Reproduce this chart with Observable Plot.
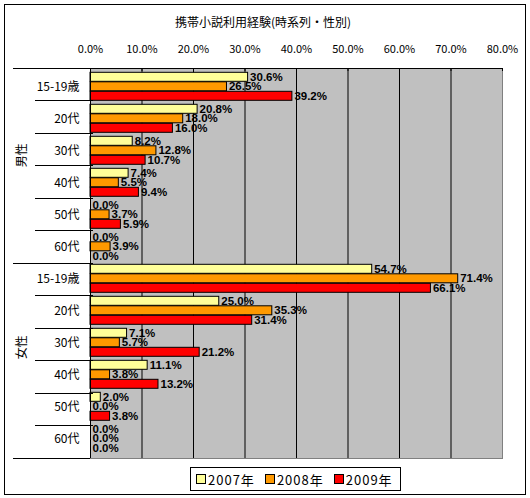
<!DOCTYPE html>
<html><head><meta charset="utf-8">
<script src="https://cdn.jsdelivr.net/npm/d3@7"></script>
<script src="https://cdn.jsdelivr.net/npm/@observablehq/plot@0.6"></script>
<style>
body{margin:0;background:#fff;}
#wrap{position:relative;width:530px;height:498px;font-family:"Noto Sans CJK JP","Liberation Sans",sans-serif;}
#border{position:absolute;left:4px;top:4px;width:520px;height:489px;border:1px solid #000;box-sizing:content-box;}
#title{position:absolute;left:0;top:13px;width:526px;text-align:center;font-size:12px;color:#000;}
#legend{position:absolute;left:190px;top:467px;width:209px;height:22px;border:1px solid #000;background:#fff;font-size:13px;display:flex;align-items:center;}
#legend span.item{display:flex;align-items:center;margin-left:5px;margin-right:5px;letter-spacing:1px;white-space:nowrap;}
#legend i{display:inline-block;width:8px;height:8px;border:1px solid #000;margin-right:2px;}
svg{position:absolute;left:0;top:0;}
</style></head>
<body><div id="wrap"><div id="border"></div><div id="title"></div><div id="chart"></div><div id="legend"></div></div>
<script>
const title = "携帯小説利用経験(時系列・性別)";
const genders = ["男性", "女性"];
const ages = ["15-19歳", "20代", "30代", "40代", "50代", "60代"];
const years = ["2007年", "2008年", "2009年"];
const colors = ["#FFFF99", "#FF9900", "#FF0000"];
const v2007 = [30.6, 20.8, 8.2, 7.4, 0.0, 0.0, 54.7, 25.0, 7.1, 11.1, 2.0, 0.0];
const v2008 = [26.5, 18.0, 12.8, 5.5, 3.7, 3.9, 71.4, 35.3, 5.7, 3.8, 0.0, 0.0];
const v2009 = [39.2, 16.0, 10.7, 9.4, 5.9, 0.0, 66.1, 31.4, 21.2, 13.2, 3.8, 0.0];
const xTicks = [0, 10, 20, 30, 40, 50, 60, 70, 80];

const series = [v2007, v2008, v2009];
const keys = [];
genders.forEach(g => ages.forEach(a => keys.push(g + "|" + a)));
const rows = [];
years.forEach((yr, i) => keys.forEach((k, j) => rows.push({key: k, year: yr, yi: i, value: series[i][j]})));

const band = 390 / keys.length;
const barH = 9.5, off = 1.3;
const fmt = d => d.toFixed(1) + "%";

document.getElementById("title").textContent = title;
const leg = document.getElementById("legend");
years.forEach((yr, i) => {
  const s = document.createElement("span"); s.className = "item";
  s.innerHTML = `<i style="background:${colors[i]}"></i>${yr}`;
  leg.appendChild(s);
});

const marks = [
  Plot.frame({fill: "#C0C0C0", stroke: "#808080"}),
  Plot.ruleX(xTicks.filter(t => t > 0 && t < 80), {x: d => d, stroke: "#000"}),
];
years.forEach((yr, i) => {
  marks.push(Plot.barX(rows.filter(r => r.yi === i), {
    x: "value", y: "key", fill: colors[i], stroke: "#000", strokeWidth: 1,
    insetTop: off + barH * i, insetBottom: band - off - barH * (i + 1)
  }));
});
marks.push(
  Plot.ruleX(xTicks, {x: d => d, stroke: "#000", insetBottom: 387}),
  Plot.ruleX([0], {x: d => d, stroke: "#000"})
);
years.forEach((yr, i) => {
  marks.push(Plot.text(rows.filter(r => r.yi === i), {
    x: "value", y: "key", text: d => fmt(d.value), dx: 2, dy: off + barH * (i + 0.5) - band / 2,
    textAnchor: "start", fontWeight: "bold", fontSize: 11.5, fill: "#000",
    fontFamily: "'Liberation Sans', Arial, sans-serif"
  }));
});
marks.push(
  Plot.text(keys, {y: d => d, text: d => d.split("|")[1], frameAnchor: "left", dx: -11, textAnchor: "end", fontSize: 12, fill: "#000"}),
  Plot.text(genders, {y: g => g + "|" + ages[3], dy: -band / 2, text: d => d, frameAnchor: "left", dx: -68, rotate: -90, fontSize: 12, fill: "#000"}),
  Plot.axisX(xTicks, {anchor: "top", tickSize: 0, tickPadding: 16, tickFormat: fmt, fontSize: 11, label: null, fill: "#000"})
);

const chart = Plot.plot({
  width: 530, height: 498,
  marginLeft: 90, marginRight: 28, marginTop: 68, marginBottom: 40,
  x: {domain: [0, 80]},
  y: {type: "band", domain: keys, padding: 0, axis: null},
  style: {background: "transparent", overflow: "visible", fontFamily: "'Noto Sans CJK JP', 'Liberation Sans', sans-serif", color: "#000"},
  marks
});
document.getElementById("chart").appendChild(chart);

// category separators in the left margin, positioned with Plot's own scales
const ys = chart.scale("y"), xs = chart.scale("x");
const yb = d3.scaleBand().domain(ys.domain).range(ys.range).padding(0);
const x0 = xs.apply(0), xEnd = xs.apply(80);
const g = d3.select(chart).append("g").attr("stroke", "#000").attr("shape-rendering", "crispEdges");
keys.forEach((k, j) => {
  const top = yb(k);
  const first = k.endsWith(ages[0]);
  const xl = first ? x0 - 77 : x0 - 55;
  const xr = j === 0 ? xEnd : x0 + 3;
  g.append("line").attr("x1", xl).attr("x2", xr).attr("y1", top).attr("y2", top);
});
const bottom = yb(keys[keys.length - 1]) + yb.bandwidth();
g.append("line").attr("x1", x0 - 77).attr("x2", x0).attr("y1", bottom).attr("y2", bottom);
</script></body></html>
